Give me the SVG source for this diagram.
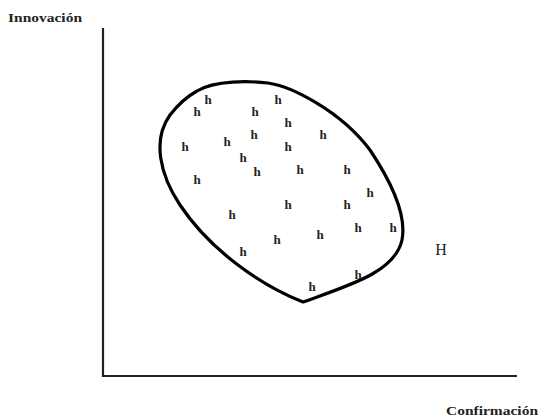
<svg xmlns="http://www.w3.org/2000/svg" width="539" height="418" viewBox="0 0 539 418">
<style>
.ax{stroke:#222;stroke-width:2.2;fill:none}
.blob{stroke:#000;stroke-width:3.2;fill:none;stroke-linejoin:round}
.h{font-family:"Liberation Serif",serif;font-weight:bold;font-size:13px;fill:#222;text-anchor:middle}
.lbl{font-family:"Liberation Serif",serif;font-weight:bold;font-size:13px;fill:#222}
.H{font-family:"Liberation Serif",serif;font-size:16px;fill:#222;text-anchor:middle}
</style>
<rect width="539" height="418" fill="#fff"/>
<g id="axes">
<path class="ax" d="M103 28 V376 H517"/>
</g>
<text id="yLabel" class="lbl" x="8" y="22" textLength="74" lengthAdjust="spacingAndGlyphs">Innovación</text>
<text id="xLabel" class="lbl" x="446" y="415" textLength="92" lengthAdjust="spacingAndGlyphs">Confirmación</text>
<g id="set">
<path class="blob" d="M197 91 C215 80,250 81,268 83 C290 86,340 110,370 150 C390 180,407 215,402 240 C395 272,350 285,303 302 C260 285,210 250,180 205 C160 175,152 140,170 115 C180 102,188 96,197 91 Z"/>
</g>
<g id="elements">
<text class="h" x="208" y="104">h</text>
<text class="h" x="278" y="104">h</text>
<text class="h" x="197" y="116">h</text>
<text class="h" x="255" y="116">h</text>
<text class="h" x="288" y="127">h</text>
<text class="h" x="323" y="139">h</text>
<text class="h" x="254" y="139">h</text>
<text class="h" x="227" y="146">h</text>
<text class="h" x="185" y="151">h</text>
<text class="h" x="288" y="151">h</text>
<text class="h" x="243" y="162">h</text>
<text class="h" x="257" y="176">h</text>
<text class="h" x="300" y="174">h</text>
<text class="h" x="347" y="174">h</text>
<text class="h" x="197" y="184">h</text>
<text class="h" x="370" y="197">h</text>
<text class="h" x="288" y="209">h</text>
<text class="h" x="347" y="209">h</text>
<text class="h" x="232" y="219">h</text>
<text class="h" x="358" y="232">h</text>
<text class="h" x="393" y="232">h</text>
<text class="h" x="320" y="239">h</text>
<text class="h" x="277" y="244">h</text>
<text class="h" x="243" y="256">h</text>
<text class="h" x="358" y="279">h</text>
<text class="h" x="312" y="291">h</text>
</g>
<text id="bigH" class="H" x="441" y="255">H</text>
</svg>
